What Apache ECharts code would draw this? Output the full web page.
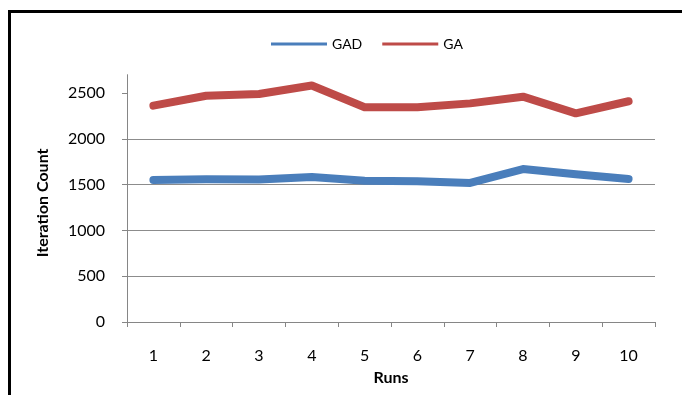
<!DOCTYPE html>
<html><head><meta charset="utf-8">
<script src="https://cdn.jsdelivr.net/npm/echarts@6/dist/echarts.min.js"></script>
<style>
html,body{margin:0;padding:0;background:#fff;overflow:hidden;width:682px;height:395px;}
#ftop{position:absolute;left:8px;top:10px;width:674px;height:3px;background:#000;}
#fleft{position:absolute;left:8px;top:10px;width:3px;height:385px;background:#000;}
#chart{position:absolute;left:0;top:0;width:682px;height:395px;}
</style></head>
<body>
<div id="ftop"></div>
<div id="fleft"></div>
<div id="chart"></div>
<script>
const categories = ['1','2','3','4','5','6','7','8','9','10'];
const gadValues = [1551, 1558, 1555, 1582, 1543, 1538, 1518, 1670, 1612, 1562];
const gaValues = [2362, 2470, 2489, 2582, 2344, 2344, 2387, 2460, 2278, 2410];
const yTicks = [0, 500, 1000, 1500, 2000, 2500];

const font = 'Lato, "Open Sans", sans-serif';
const chart = echarts.init(document.getElementById('chart'), null, {renderer:'canvas'});
chart.setOption({
  backgroundColor: 'transparent',
  animation: false,
  textStyle: {fontFamily: font},
  legend: {
    left: 266, top: 32,
    icon: 'rect', itemWidth: 56, itemHeight: 3, itemGap: 20,
    textStyle: {fontSize: 14, color: '#000', fontFamily: font},
    data: ['GAD', 'GA']
  },
  grid: {left: 127, right: 27, top: 74.7, bottom: 73, containLabel: false},
  xAxis: {
    type: 'category', data: categories, boundaryGap: true,
    name: 'Runs', nameLocation: 'middle', nameGap: 48,
    nameTextStyle: {fontWeight: 'bold', fontSize: 16, color: '#000', fontFamily: font},
    axisLine: {lineStyle: {color: '#868686', width: 1}},
    axisTick: {show: true, alignWithLabel: false, length: 5, inside: false, lineStyle: {color: '#868686'}},
    axisLabel: {margin: 26, fontSize: 16, color: '#000', fontFamily: font}
  },
  yAxis: {
    type: 'value', min: 0, max: 2700, interval: 500,
    name: 'Iteration Count', nameLocation: 'middle', nameGap: 76,
    nameTextStyle: {fontWeight: 'bold', fontSize: 16, color: '#000', fontFamily: font, padding: [0, 9, 0, 0]},
    axisLine: {show: true, lineStyle: {color: '#868686', width: 1}},
    axisTick: {show: true, length: 5, lineStyle: {color: '#868686'}, customValues: yTicks},
    axisLabel: {margin: 22, fontSize: 16, color: '#000', fontFamily: font, customValues: yTicks,
                formatter: function (v) { return String(v); }},
    splitLine: {show: true, showMaxLine: false, lineStyle: {color: '#8c8c8c', width: 1}}
  },
  series: [
    {name: 'GAD', type: 'line', data: gadValues, symbol: 'none', showSymbol: false,
     lineStyle: {width: 8, color: '#4a7ebb', cap: 'round', join: 'round'}, itemStyle: {color: '#4a7ebb'}},
    {name: 'GA', type: 'line', data: gaValues, symbol: 'none', showSymbol: false,
     lineStyle: {width: 8, color: '#be4b48', cap: 'round', join: 'round'}, itemStyle: {color: '#be4b48'}}
  ]
});
</script>
</body></html>
